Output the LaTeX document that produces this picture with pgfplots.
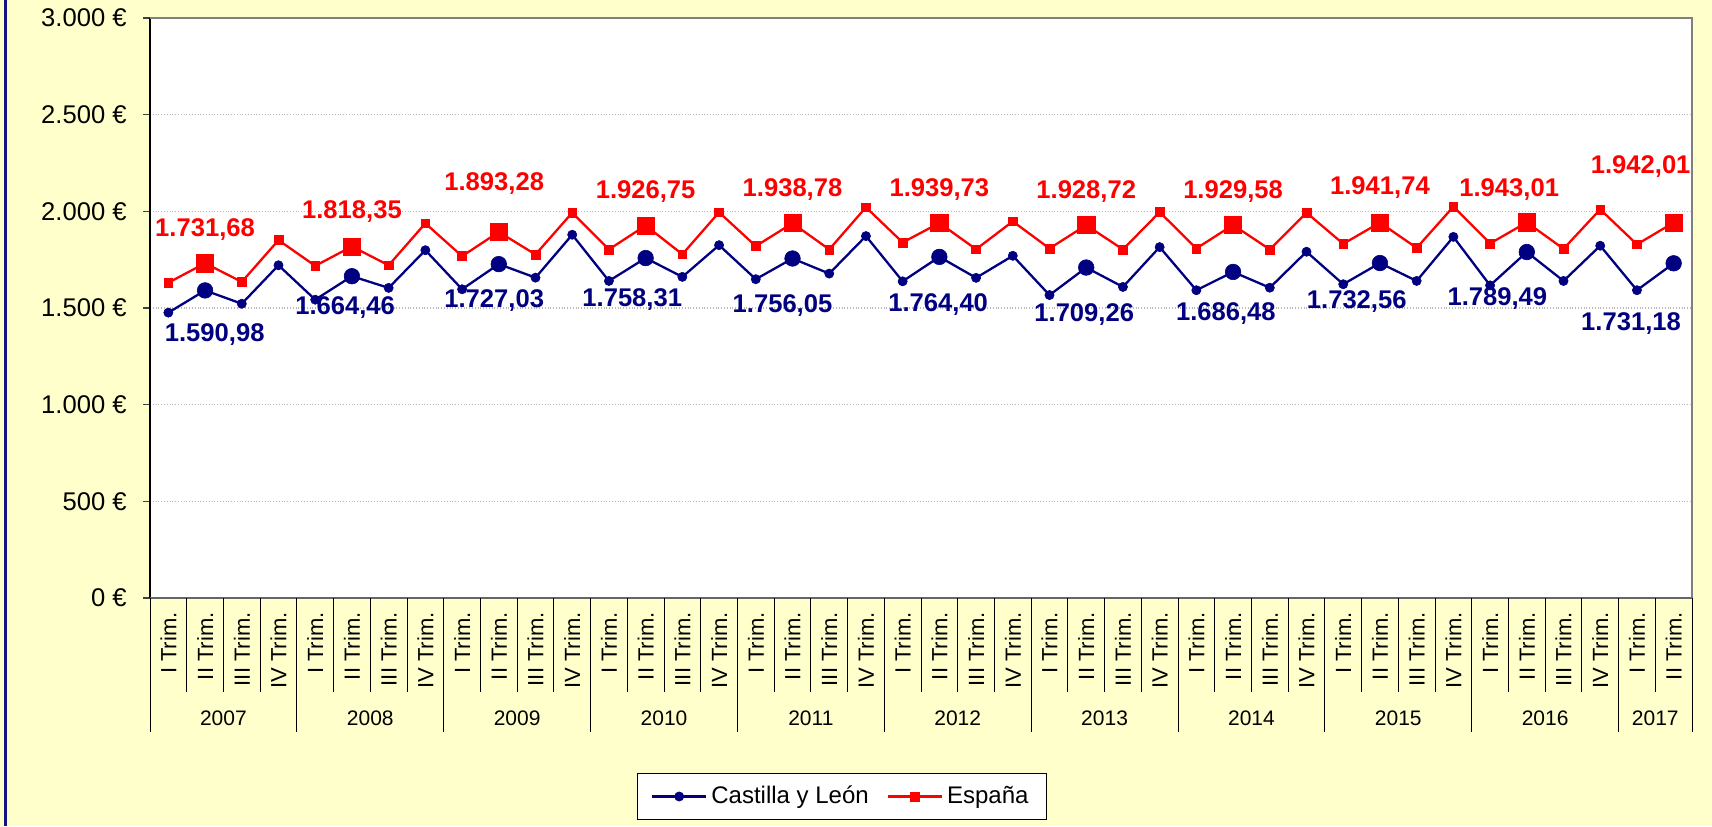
\documentclass[border=0pt]{standalone}
\usepackage{pgfplots}
\pgfplotsset{compat=1.18}
\usepackage{fontspec}
\setmainfont{Liberation Sans}
\definecolor{bg}{RGB}{255,255,204}
\definecolor{cyl}{RGB}{0,0,128}
\definecolor{esp}{RGB}{255,0,0}
\definecolor{frame}{RGB}{20,20,130}
\begin{document}
\begin{tikzpicture}
\fill[bg] (0,0) rectangle (856pt,413pt);
\useasboundingbox (0,0) rectangle (856pt,413pt);
\fill[frame] (2pt,0) rectangle (3.5pt,413pt);
\begin{axis}[
  at={(75pt,114pt)}, anchor=south west,
  scale only axis, width=771pt, height=290pt,
  xmin=-0.5, xmax=41.5, ymin=0, ymax=3000,
  clip=false,
  axis background/.style={fill=white},
  axis line style={draw=none},
  ytick={0,500,1000,1500,2000,2500,3000},
  yticklabels={0~€,500~€,1.000~€,1.500~€,2.000~€,2.500~€,3.000~€},
  ytick pos=left,
  ymajorgrids, major grid style={gray!55, densely dotted, line width=0.6pt},
  tick align=outside, major tick length=3.5pt,
  ytick style={black!75, line width=0.8pt},
  yticklabel style={font=\fontsize{12.8}{14}\selectfont, inner sep=0pt},
  yticklabel shift=8pt,
  xtick={0,...,41},
  xticklabels={I Trim.,II Trim.,III Trim.,IV Trim.,I Trim.,II Trim.,III Trim.,IV Trim.,I Trim.,II Trim.,III Trim.,IV Trim.,I Trim.,II Trim.,III Trim.,IV Trim.,I Trim.,II Trim.,III Trim.,IV Trim.,I Trim.,II Trim.,III Trim.,IV Trim.,I Trim.,II Trim.,III Trim.,IV Trim.,I Trim.,II Trim.,III Trim.,IV Trim.,I Trim.,II Trim.,III Trim.,IV Trim.,I Trim.,II Trim.,III Trim.,IV Trim.,I Trim.,II Trim.},
  xtick style={draw=none},
  xticklabel style={rotate=90, anchor=east, inner sep=0pt, font=\fontsize{11}{12}\selectfont},
  xticklabel shift=3.5pt,
  legend style={at={([yshift=-99.25pt]axis description cs:0.3156,0)}, anchor=west,
    draw=black, fill=white, font=\fontsize{12}{14}\selectfont,
    inner xsep=7pt, inner ysep=4.5pt,
    /tikz/every even column/.append style={column sep=7pt}},
  legend columns=2,
  legend image code/.code={\draw[#1, mark repeat=2, mark phase=2] plot coordinates {(0pt,0pt) (13.5pt,0pt) (27pt,0pt)};},
]
\addplot[cyl, line width=1.15pt, mark=*, mark size=2.3pt, mark options={solid, fill=cyl, line width=0.3pt}] table {
x y
0 1476
1 1590.98
2 1522
3 1721
4 1543
5 1664.46
6 1604
7 1799
8 1597
9 1727.03
10 1657
11 1879
12 1640
13 1758.31
14 1661
15 1825
16 1649
17 1756.05
18 1678
19 1872
20 1638
21 1764.40
22 1656
23 1770
24 1567
25 1709.26
26 1609
27 1815
28 1592
29 1686.48
30 1605
31 1791
32 1623
33 1732.56
34 1640
35 1868
36 1617
37 1789.49
38 1640
39 1822
40 1592
41 1731.18
};
\addlegendentry{Castilla y León}
\addplot[esp, line width=1.15pt, mark=square*, mark size=2.2pt, mark options={solid, fill=esp, line width=0.3pt}] table {
x y
0 1631
1 1731.68
2 1635
3 1851
4 1718
5 1818.35
6 1721
7 1938
8 1768
9 1893.28
10 1777
11 1993
12 1803
13 1926.75
14 1778
15 1995
16 1820
17 1938.78
18 1803
19 2021
20 1839
21 1939.73
22 1804
23 1948
24 1808
25 1928.72
26 1803
27 1996
28 1808
29 1929.58
30 1803
31 1993
32 1832
33 1941.74
34 1811
35 2024
36 1834
37 1943.01
38 1806
39 2010
40 1829
41 1942.01
};
\addlegendentry{España\hspace{6pt}}
\addplot[forget plot, only marks, mark=*, mark size=3.9pt, mark options={fill=cyl, draw=cyl, line width=0.3pt}] coordinates {
(1,1590.98) (5,1664.46) (9,1727.03) (13,1758.31) (17,1756.05) (21,1764.40) (25,1709.26) (29,1686.48) (33,1732.56) (37,1789.49) (41,1731.18)};
\addplot[forget plot, only marks, mark=square*, mark size=4.3pt, mark options={fill=esp, draw=esp, line width=0.3pt}] coordinates {
(1,1731.68) (5,1818.35) (9,1893.28) (13,1926.75) (17,1938.78) (21,1939.73) (25,1928.72) (29,1929.58) (33,1941.74) (37,1943.01) (41,1942.01)};
% plot-area border
\draw[black, line width=0.9pt] (axis cs:-0.5,0) -- (axis cs:-0.5,3000);
\draw[gray, line width=1.4pt] (axis cs:-0.5,3000) -- (axis cs:41.5,3000) -- (axis cs:41.5,0);
\draw[black!60, line width=1pt] (axis cs:-0.5,0) -- (axis cs:41.5,0);
% category separators
\pgfplotsinvokeforeach{0.5,1.5,2.5,4.5,5.5,6.5,8.5,9.5,10.5,12.5,13.5,14.5,16.5,17.5,18.5,20.5,21.5,22.5,24.5,25.5,26.5,28.5,29.5,30.5,32.5,33.5,34.5,36.5,37.5,38.5,40.5}{
  \draw[black, line width=0.5pt] (axis cs:#1,0) -- ++(0pt,-47pt);}
\pgfplotsinvokeforeach{-0.5,3.5,7.5,11.5,15.5,19.5,23.5,27.5,31.5,35.5,39.5,41.5}{
  \draw[black, line width=0.5pt] (axis cs:#1,0) -- ++(0pt,-67pt);}
% year labels
\tikzset{yr/.style={font=\fontsize{10.5}{12}\selectfont, anchor=center}}
\path (axis cs:1.5,0) ++(0pt,-60pt) node[yr]{2007};
\path (axis cs:5.5,0) ++(0pt,-60pt) node[yr]{2008};
\path (axis cs:9.5,0) ++(0pt,-60pt) node[yr]{2009};
\path (axis cs:13.5,0) ++(0pt,-60pt) node[yr]{2010};
\path (axis cs:17.5,0) ++(0pt,-60pt) node[yr]{2011};
\path (axis cs:21.5,0) ++(0pt,-60pt) node[yr]{2012};
\path (axis cs:25.5,0) ++(0pt,-60pt) node[yr]{2013};
\path (axis cs:29.5,0) ++(0pt,-60pt) node[yr]{2014};
\path (axis cs:33.5,0) ++(0pt,-60pt) node[yr]{2015};
\path (axis cs:37.5,0) ++(0pt,-60pt) node[yr]{2016};
\path (axis cs:40.5,0) ++(0pt,-60pt) node[yr]{2017};
% data labels
\tikzset{le/.style={text=esp, font=\bfseries\fontsize{12.8}{14}\selectfont, anchor=center, inner sep=0pt},
         lc/.style={text=cyl, font=\bfseries\fontsize{12.8}{14}\selectfont, anchor=center, inner sep=0pt}}
\path (axis cs:1,1731.68) ++(0pt,16.7pt) node[le]{1.731,68};
\path (axis cs:5,1818.35) ++(0pt,17.5pt) node[le]{1.818,35};
\path (axis cs:9,1893.28) ++(-2.3pt,24pt) node[le]{1.893,28};
\path (axis cs:13,1926.75) ++(0pt,17pt) node[le]{1.926,75};
\path (axis cs:17,1938.78) ++(0pt,16.8pt) node[le]{1.938,78};
\path (axis cs:21,1939.73) ++(0pt,16.8pt) node[le]{1.939,73};
\path (axis cs:25,1928.72) ++(0pt,17pt) node[le]{1.928,72};
\path (axis cs:29,1929.58) ++(0pt,16.7pt) node[le]{1.929,58};
\path (axis cs:33,1941.74) ++(0pt,17.5pt) node[le]{1.941,74};
\path (axis cs:37,1943.01) ++(-8.8pt,16.2pt) node[le]{1.943,01};
\path (axis cs:41,1942.01) ++(-16.5pt,27.8pt) node[le]{1.942,01};
\path (axis cs:1,1590.98) ++(4.8pt,-22pt) node[lc]{1.590,98};
\path (axis cs:5,1664.46) ++(-3.4pt,-15.7pt) node[lc]{1.664,46};
\path (axis cs:9,1727.03) ++(-2.3pt,-18.2pt) node[lc]{1.727,03};
\path (axis cs:13,1758.31) ++(-6.7pt,-20.5pt) node[lc]{1.758,31};
\path (axis cs:17,1756.05) ++(-5pt,-23.7pt) node[lc]{1.756,05};
\path (axis cs:21,1764.40) ++(-0.6pt,-23.7pt) node[lc]{1.764,40};
\path (axis cs:25,1709.26) ++(-1pt,-23.7pt) node[lc]{1.709,26};
\path (axis cs:29,1686.48) ++(-3.6pt,-20.8pt) node[lc]{1.686,48};
\path (axis cs:33,1732.56) ++(-11.6pt,-19.2pt) node[lc]{1.732,56};
\path (axis cs:37,1789.49) ++(-14.7pt,-23.3pt) node[lc]{1.789,49};
\path (axis cs:41,1731.18) ++(-21.3pt,-30pt) node[lc]{1.731,18};
\end{axis}
\end{tikzpicture}
\end{document}
